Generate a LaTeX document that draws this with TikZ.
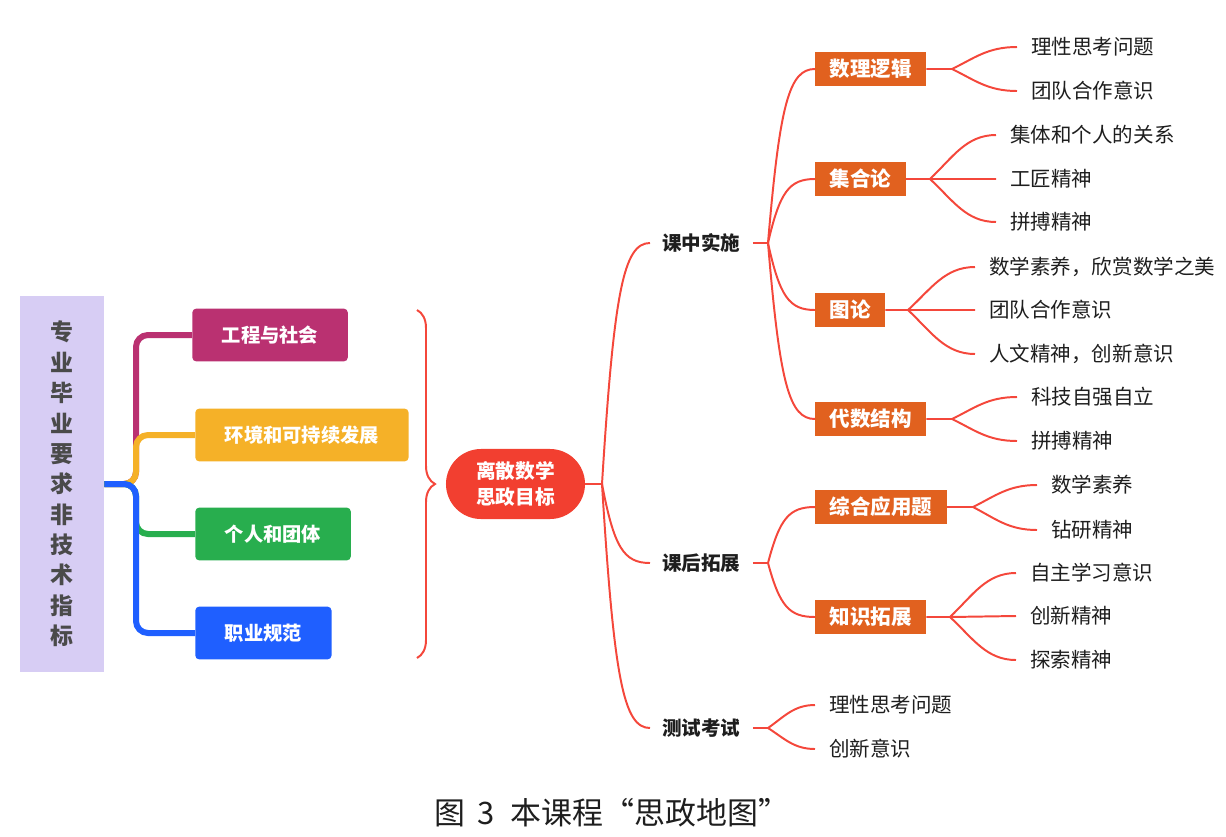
\documentclass[tikz,border=0pt]{standalone}
\usepackage{fontspec}
\newfontfamily\cjk{Noto Sans CJK SC}
\usetikzlibrary{calc,decorations.pathreplacing}

\definecolor{reqpurple}{HTML}{D7CDF4}
\definecolor{reqtext}{HTML}{4A4A4A}
\definecolor{engmagenta}{HTML}{BA3171}
\definecolor{envyellow}{HTML}{F5B128}
\definecolor{teamgreen}{HTML}{28AE4E}
\definecolor{normblue}{HTML}{1F5FFF}
\definecolor{rootred}{HTML}{F23F30}
\definecolor{linkred}{HTML}{F4473B}
\definecolor{topicorange}{HTML}{E1611F}
\definecolor{leaftext}{HTML}{1E1E1E}

\tikzset{
  link/.style={draw=linkred, line width=1.4pt},
  branch/.style={line width=0.15cm, rounded corners=0.3cm},
  catbox/.style={anchor=west, rounded corners=0.1cm, text=white, minimum height=1.32cm, inner xsep=0.74cm, font=\cjk\bfseries\fontsize{13.7}{16}\selectfont},
  topicbox/.style={anchor=west, fill=topicorange, text=white, minimum height=0.86cm, inner xsep=0.36cm, font=\cjk\bfseries\fontsize{14.6}{17}\selectfont},
  stage/.style={anchor=west, inner xsep=0.3cm, text=leaftext, font=\cjk\bfseries\fontsize{13.9}{16}\selectfont},
  leaf/.style={anchor=west, inner xsep=0.35cm, text=leaftext, font=\cjk\fontsize{14.6}{17}\selectfont},
  fan/.style={to path={let \p1=(\tikztostart), \p2=(\tikztotarget) in .. controls ({\x1+0.25*(\x2-\x1)},{\y2+0.2*(\y1-\y2)}) and ({\x1+0.45*(\x2-\x1)},\y2) .. (\tikztotarget)}},
  twig/.style={to path={let \p1=(\tikztostart), \p2=(\tikztotarget) in .. controls ({\x1+0.35*(\x2-\x1)},{\y1+0.5*(\y2-\y1)}) and ({\x1+0.55*(\x2-\x1)},\y2) .. (\tikztotarget)}}
}

\begin{document}
\begin{tikzpicture}[x=0.025cm, y=-0.025cm]
        %fix the page to the size of the reference
        \useasboundingbox (0,0) rectangle (1226,837);

        %left column and its four requirement boxes
        \node[fill=reqpurple, minimum width=2.1cm, minimum height=9.4cm, inner sep=0, align=center, text=reqtext, font=\cjk\bfseries\fontsize{16.3}{21.6}\selectfont] (req) at (62,484) {专\\业\\毕\\业\\要\\求\\非\\技\\术\\指\\标};
        \node[catbox, fill=engmagenta] (eng) at (192,335) {工程与社会};
        \node[catbox, fill=envyellow] (env) at (195,435) {环境和可持续发展};
        \node[catbox, fill=teamgreen] (team) at (195,534) {个人和团体};
        \node[catbox, fill=normblue] (norm) at (195,633) {职业规范};

        \coordinate (split) at (136,484);
        \draw[branch, engmagenta] (req.east) -- (split) -- (split |- eng) -- (eng.west);
        \draw[branch, envyellow] (req.east) -- (split) -- (split |- env) -- (env.west);
        \draw[branch, teamgreen] (req.east) -- (split) -- (split |- team) -- (team.west);
        \draw[branch, normblue] (req.east) -- (split) -- (split |- norm) -- (norm.west);

        %the brace
        \draw[linkred, line width=1.4pt, decorate, decoration={brace, amplitude=0.45cm}] (417,310) -- (417,658);

        %root and the three stages
        \node[fill=rootred, text=white, rounded corners=0.875cm, minimum width=3.475cm, minimum height=1.75cm, align=center, font=\cjk\bfseries\fontsize{14}{18.3}\selectfont] (root) at (515.5,484) {离散数学\\思政目标};
        \node[stage] (ks) at (650,243) {课中实施};
        \node[stage] (kh) at (650,563) {课后拓展};
        \node[stage] (cs) at (650,728) {测试考试};

        \coordinate (f0) at (602,484);
        \coordinate (f1) at (768,243);
        \coordinate (f2) at (768,563);
        \coordinate (f3) at (768,728);
        \draw[link] (root.east) -- (f0);
        \draw[link] (f0) to[fan] (ks.west);
        \draw[link] (f0) to[fan] (kh.west);
        \draw[link] (f0) to[fan] (cs.west);
        \draw[link] (ks.east) -- (f1);
        \draw[link] (kh.east) -- (f2);
        \draw[link] (cs.east) -- (f3);

        %orange topic boxes
        \node[topicbox] (b11) at (815,69) {数理逻辑};
        \node[topicbox] (b12) at (815,179) {集合论};
        \node[topicbox] (b13) at (815,310) {图论};
        \node[topicbox] (b14) at (815,419) {代数结构};
        \node[topicbox] (b21) at (815,507) {综合应用题};
        \node[topicbox] (b22) at (815,617) {知识拓展};
        \draw[link] (f1) to[fan] (b11.west);
        \draw[link] (f1) to[fan] (b12.west);
        \draw[link] (f1) to[fan] (b13.west);
        \draw[link] (f1) to[fan] (b14.west);
        \draw[link] (f2) to[fan] (b21.west);
        \draw[link] (f2) to[fan] (b22.west);

        %leaves
        \node[leaf] (l11a) at (1017,47) {理性思考问题};
        \node[leaf] (l11b) at (1017,91) {团队合作意识};
        \node[leaf] (l12a) at (996,135) {集体和个人的关系};
        \node[leaf] (l12b) at (996,179) {工匠精神};
        \node[leaf] (l12c) at (996,222) {拼搏精神};
        \node[leaf] (l13a) at (975,267) {数学素养，欣赏数学之美};
        \node[leaf] (l13b) at (975,310) {团队合作意识};
        \node[leaf] (l13c) at (975,354) {人文精神，创新意识};
        \node[leaf] (l14a) at (1017,397) {科技自强自立};
        \node[leaf] (l14b) at (1017,441) {拼搏精神};
        \node[leaf] (l21a) at (1037,485) {数学素养};
        \node[leaf] (l21b) at (1037,530) {钻研精神};
        \node[leaf] (l22a) at (1016,573) {自主学习意识};
        \node[leaf] (l22b) at (1016,616) {创新精神};
        \node[leaf] (l22c) at (1016,660) {探索精神};
        \node[leaf] (l3a) at (815,705) {理性思考问题};
        \node[leaf] (l3b) at (815,749) {创新意识};

        \coordinate (g11) at (952,69);
        \coordinate (g12) at (930,179);
        \coordinate (g13) at (908,310);
        \coordinate (g14) at (952,419);
        \coordinate (g21) at (973,507);
        \coordinate (g22) at (950,617);
        \draw[link] (b11.east) -- (g11) (g11) to[twig] (l11a.west) (g11) to[twig] (l11b.west);
        \draw[link] (b12.east) -- (g12) (g12) to[twig] (l12a.west) (g12) -- (l12b.west) (g12) to[twig] (l12c.west);
        \draw[link] (b13.east) -- (g13) (g13) to[twig] (l13a.west) (g13) -- (l13b.west) (g13) to[twig] (l13c.west);
        \draw[link] (b14.east) -- (g14) (g14) to[twig] (l14a.west) (g14) to[twig] (l14b.west);
        \draw[link] (b21.east) -- (g21) (g21) to[twig] (l21a.west) (g21) to[twig] (l21b.west);
        \draw[link] (b22.east) -- (g22) (g22) to[twig] (l22a.west) (g22) -- (l22b.west) (g22) to[twig] (l22c.west);
        \draw[link] (f3) to[twig] (l3a.west) (f3) to[twig] (l3b.west);

        %caption
        \node[font=\cjk\fontsize{22}{25}\selectfont, text=leaftext] (cap) at (612,813) {图\hspace{0.3cm}3\hspace{0.4cm}本课程“思政地图”};
\end{tikzpicture}
\end{document}
